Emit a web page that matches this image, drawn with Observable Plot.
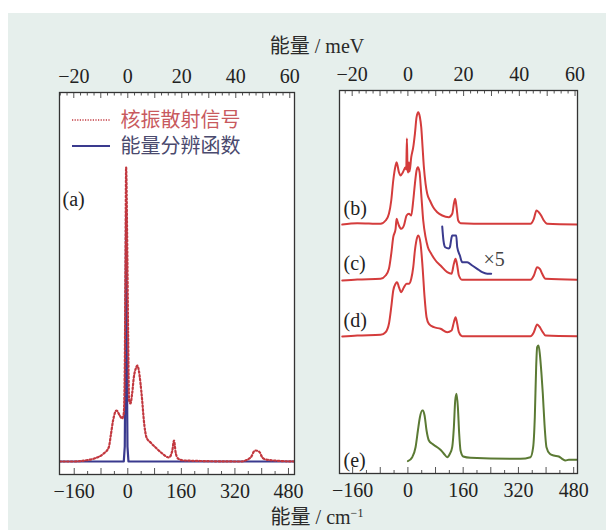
<!DOCTYPE html>
<html><head><meta charset="utf-8">
<script src="https://cdn.jsdelivr.net/npm/d3@7"></script>
<script src="https://cdn.jsdelivr.net/npm/@observablehq/plot@0.6"></script>
<style>
html,body{margin:0;padding:0;background:#fff;}
#page{position:relative;width:606px;height:530px;overflow:hidden;font-family:"Liberation Serif","Noto Sans CJK SC",serif;color:#2a2a2a;}
#bg{position:absolute;left:8px;top:13px;width:598px;height:517px;background:#e6efec;}
.title{position:absolute;font-size:20px;white-space:nowrap;transform:translate(-50%,-50%);line-height:1;}
.title sup{font-size:12px;}
#page svg{position:absolute;overflow:visible;}
</style></head><body>
<div id="page"><div id="bg"></div>
<div class="title" style="left:317px;top:46px">能量 / meV</div>
<div class="title" style="left:317px;top:517px">能量 / cm<sup>−1</sup></div>
</div>
<script>
// ---- data (x in cm^-1, heights in plot units) ----
const cmTicks = [-160, 0, 160, 320, 480];
const meVTicks = [-20, 0, 20, 40, 60];
const MEV = 8.0655; // cm^-1 per meV

// panel (a): nuclear resonant scattering signal (dotted) and resolution function
const aSignalX = [-204,-160,-130,-100,-72,-57,-50,-44,-34,-24,-17,-12,-9,-7,-5,-2,1,4,8,13,18,25,28,33,38,43,48,56,68,83,103,123,133,138,143,150,168,337,367,380,392,402,412,437,498];
const aSignalY = [0,0,1,3,8,14,28,41,51,46,43,48,94,194,294,228,128,61,58,68,84,94,96,91,78,61,41,24,19,14,8,4,11,21,9,3,1,0,4,11,10,4,2,1,0];
const aResX = [-204,-12,-9,-7,-5,-3,-1,2,498];
const aResY = [0,0,15,110,249,110,15,0,0];
const aBase = 13;

// panel (b)-(e)
const bX = [-190,-146.5,-79,-64.6,-54.9,-48.2,-42.4,-35.6,-32.7,-26,-21.2,-14.4,-6.7,-4.8,-2.9,-1,1,2.9,4.8,9.7,15.5,20.3,25.1,30,34.8,38.6,42.5,46.3,51.2,56,63.7,73.3,84.9,99.4,118.6,128.3,133.1,137,140.8,145.6,152.4,229.6,354.9,364.6,372.3,379,385.8,393.5,403.1,491];
const bY = [0,1.3,0.7,4,10.7,24,44,59,62.3,52.3,49,52.3,57.3,55,86,55,52,62,53,67.3,77.3,90.7,107.3,112.3,107.3,97.3,77.3,57.3,40.7,30.7,24,17.3,12.3,9,7.3,10.7,20.7,25.7,17.3,4,1.3,0.7,0.7,5.7,14,12.3,9,4,0.7,0];
const cX = [-190,-146.5,-79,-64.6,-54.9,-48.2,-42.4,-35.6,-32.7,-30.8,-26,-19.2,-11.5,-3.8,2.9,9.7,15.5,20.3,25.1,29,33.8,38.6,44.4,51.2,57.9,67.5,80.1,94.5,113.8,126.4,133.1,138,142.8,147.6,157.2,354.9,364.6,374.2,381.9,388.7,398.3,491];
const cY = [0,1,1.7,5,11.7,26.7,43.3,51.7,61.7,60,55,51.7,55,65,66.7,65,80,96.7,110,113.3,108.3,86.7,60,43.3,33.3,26.7,20,15,8.3,6.7,16.7,21.7,15,5,0.7,0.7,5,13.3,11.7,6.7,1.7,0.7];
const zX = [99.4,103,108,118.6,121.6,126.4,128.3,139.9,142.8,150.5,157.2,171.7,186.2,200.6,215.1,229.6,241.1];
const zY = [54,40,33.3,32,33.3,43,45,45,33.3,25,18.3,18.3,15,11.7,8.3,6.7,6.7];
const dX = [-190,-146.5,-79,-64.6,-54.9,-48.2,-42.4,-35.6,-32.7,-30.8,-26,-19.2,-11.5,-3.8,2.9,9.7,15.5,20.3,27,30,36.7,42.5,48.3,54,60.8,75.3,94.5,113.8,126.4,133.1,138,142.8,147.6,157.2,354.9,364.6,374.2,381.9,388.7,398.3,491];
const dY = [0,1,1.7,4.3,12.7,29.3,46,52.7,54.3,54.3,49.3,44.3,49.3,52.7,52.7,57.7,69.3,86,99.3,101,92.7,69.3,39.3,19.3,12.7,9.3,7.7,4.3,6,14.3,19.3,12.7,4.3,0.3,0.3,4.3,12,9.3,5.3,1,0.3];
const eX = [0,12.6,22.2,29,34.8,41.5,43.4,48.3,54,60.8,70.4,84.9,96.5,106.1,113.8,121.6,128.3,133.1,137,140.8,144.7,148.5,152.4,160.1,181.3,326,354.9,362.6,367.4,371.3,374.2,378.1,381.9,386.7,390.6,395.4,401.2,410.8,422.4,436.9,446.5,456.2,465.8,491];
const eY = [12.3,16.3,26.3,43,56.3,63,63,58,43,33,29.7,26.3,23,19,16.3,19.7,26.3,46.3,73,79.7,66.3,39.7,23,17,15.7,14.7,16.3,26.3,56.3,106.3,126.3,128,119.7,99.7,79.7,49.7,26.3,19.7,18,17,14.7,13,13.7,13.7];
const offsets = {b: 249, c: 193, d: 137, e: 0};

// ---- helpers ----
const FONT = '"Liberation Serif","Noto Sans CJK SC",serif';
const fmt = d => d < 0 ? "\u2212" + (-d) : String(d);
const zip = (xs, ys, off = 0) => xs.map((x, i) => ({x, y: ys[i] + off}));
const RED = "#d43c3c", BLUE = "#3a3a8e", GREEN = "#5b7a34";

function axisMarks(H, xdom) {
  const bot = d3.range(-160, 481, 40);
  const top = d3.range(-25, 61, 2.5).filter(v => v * MEV >= xdom[0] && v * MEV <= xdom[1]);
  return [
    Plot.axisX({anchor: "bottom", label: null, ticks: cmTicks, tickSize: 0, tickPadding: 9, tickFormat: fmt, fontSize: 20}),
    Plot.axisX({anchor: "top", label: null, ticks: meVTicks.map(v => v * MEV), tickSize: 0, tickPadding: 10, tickFormat: d => fmt(Math.round(d / MEV)), fontSize: 20}),
    Plot.ruleX(bot, {x: d => d, y1: 0, y2: d => d % 80 === 0 ? 6 : 3, stroke: "#555", strokeWidth: 1}),
    Plot.ruleX(top, {x: d => d * MEV, y1: H, y2: d => H - (d % 10 === 0 ? 6 : 3.5), stroke: "#555", strokeWidth: 1})
  ];
}

function label(t, dx, dy, opts = {}) {
  return Plot.text([t], {text: d => d, frameAnchor: "top-left", dx, dy, textAnchor: "start", lineAnchor: "middle", fontSize: 20, fill: "#222", ...opts});
}

// ---- panel (a) ----
const HA = 382, xDomA = [-204, 498];
const svgA = Plot.plot({
  width: 300, height: 470,
  marginLeft: 59, marginRight: 6, marginTop: 52, marginBottom: 36,
  style: {fontFamily: FONT, background: "transparent", color: "#222", overflow: "visible"},
  x: {domain: xDomA},
  y: {domain: [0, HA], axis: null},
  marks: [
    Plot.frame({fill: "white", stroke: null}),
    ...axisMarks(HA, xDomA),
    Plot.line(zip(aResX, aResY, aBase), {x: "x", y: "y", stroke: BLUE, strokeWidth: 2.2, clip: true}),
    Plot.line(zip(aSignalX, aSignalY, aBase), {x: "x", y: "y", stroke: "#c2383f", strokeWidth: 2.2, strokeDasharray: "1.6,2.2", curve: "monotone-x", clip: true}),
    label("核振散射信号", 61, 28, {fill: "#c85a5e"}),
    label("能量分辨函数", 61, 54, {fill: "#4a4a6e"}),
    label("(a)", 3, 107),
    Plot.frame({stroke: "#333", strokeWidth: 1.3})
  ]
});
svgA.style.left = "0px"; svgA.style.top = "40px";
const gA = d3.select(svgA).append("g");
gA.append("line").attr("x1", 72).attr("x2", 110).attr("y1", 80).attr("y2", 80)
  .attr("stroke", "#c2383f").attr("stroke-width", 1.4).attr("stroke-dasharray", "1.2,1.4");
gA.append("line").attr("x1", 72).attr("x2", 110).attr("y1", 106).attr("y2", 106)
  .attr("stroke", BLUE).attr("stroke-width", 1.8);
document.getElementById("page").appendChild(svgA);

// ---- panel (b)-(e) ----
const HB = 383, xDomB = [-198, 491];
const svgB = Plot.plot({
  width: 306, height: 470,
  marginLeft: 39, marginRight: 29, marginTop: 50, marginBottom: 37,
  style: {fontFamily: FONT, background: "transparent", color: "#222", overflow: "visible"},
  x: {domain: xDomB},
  y: {domain: [0, HB], axis: null},
  marks: [
    Plot.frame({fill: "white", stroke: null}),
    ...axisMarks(HB, xDomB),
    Plot.line(zip(bX, bY, offsets.b), {x: "x", y: "y", stroke: RED, strokeWidth: 2, curve: "monotone-x", clip: true}),
    Plot.line(zip(cX, cY, offsets.c), {x: "x", y: "y", stroke: RED, strokeWidth: 2, curve: "monotone-x", clip: true}),
    Plot.line(zip(zX, zY, offsets.c), {x: "x", y: "y", stroke: BLUE, strokeWidth: 2, curve: "monotone-x", clip: true}),
    Plot.line(zip(dX, dY, offsets.d), {x: "x", y: "y", stroke: RED, strokeWidth: 2, curve: "monotone-x", clip: true}),
    Plot.line(zip(eX, eY, offsets.e), {x: "x", y: "y", stroke: GREEN, strokeWidth: 2, curve: "monotone-x", clip: true}),
    label("(b)", 4, 118),
    label("(c)", 4, 173),
    label("(d)", 4, 230),
    label("(e)", 4, 370),
    label("×5", 144, 169, {fontSize: 20, fill: "#444"}),
    Plot.frame({stroke: "#333", strokeWidth: 1.3})
  ]
});
svgB.style.left = "300px"; svgB.style.top = "40px";
document.getElementById("page").appendChild(svgB);
</script>
</body></html>
